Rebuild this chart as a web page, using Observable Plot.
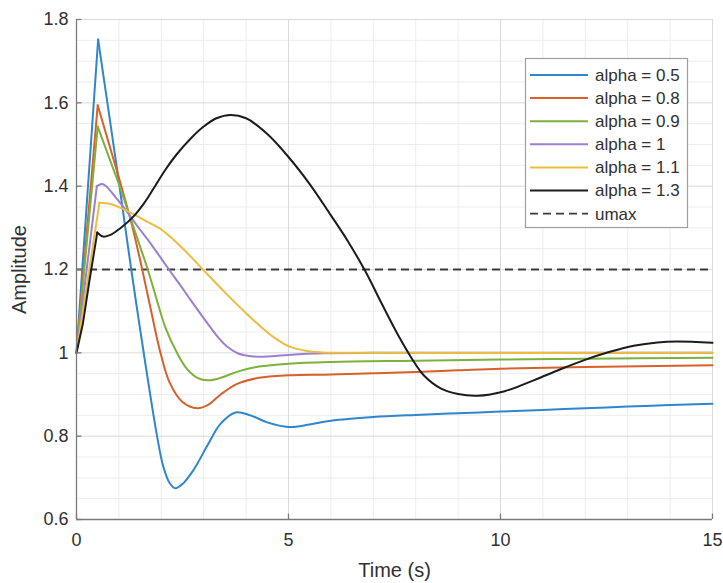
<!DOCTYPE html>
<html><head><meta charset="utf-8">
<script src="https://cdn.jsdelivr.net/npm/d3@7"></script>
<script src="https://cdn.jsdelivr.net/npm/@observablehq/plot@0.6"></script>
<style>
body{margin:0;background:#fff}
#chart{position:relative;width:723px;height:583px}
</style>
</head><body><div id="chart"></div>
<script>
// ---- data ----
const seriesNames = ["alpha = 0.5","alpha = 0.8","alpha = 0.9","alpha = 1","alpha = 1.1","alpha = 1.3"];
const seriesColors = ["#2f86cc","#d9602a","#7fb03c","#9c80d0","#ecbd3e","#1c1c1c"];
// time of the sharp first peak of each response (end of the initial straight rise)
const cornerTimes = [0.51, 0.5, 0.5, 0.48, 0.54, 0.49];

const alpha05 = [[0,1.0],[0.51,1.752],[0.8,1.55],[1.0,1.41],[1.27,1.215],[1.6,0.99],[1.9,0.8],[2.05,0.726],[2.2,0.687],[2.33,0.675],[2.5,0.685],[2.7,0.71],[2.85,0.734],[3.1,0.78],[3.4,0.83],[3.75,0.857],[4.1,0.85],[4.5,0.833],[5.0,0.822],[5.5,0.828],[6,0.837],[7,0.846],[8,0.851],[9,0.855],[10,0.859],[11,0.863],[12,0.867],[13,0.871],[14,0.875],[15,0.878]];
const alpha08 = [[0,1.0],[0.5,1.594],[0.8,1.49],[1.0,1.42],[1.3,1.31],[1.55,1.2],[1.75,1.105],[1.98,1.0],[2.2,0.928],[2.5,0.882],[2.85,0.867],[3.1,0.875],[3.4,0.9],[3.8,0.926],[4.3,0.94],[5,0.946],[6,0.948],[7,0.951],[8,0.954],[9,0.958],[10,0.962],[12,0.966],[15,0.970]];
const alpha09 = [[0,1.0],[0.5,1.543],[0.8,1.46],[1.0,1.405],[1.3,1.315],[1.68,1.2],[1.9,1.125],[2.1,1.06],[2.37,1.0],[2.6,0.962],[2.85,0.94],[3.1,0.934],[3.4,0.94],[3.8,0.955],[4.3,0.967],[5,0.974],[6,0.978],[8,0.981],[10,0.984],[12,0.986],[15,0.988]];
const alpha10 = [[0,1.0],[0.48,1.40],[0.6,1.405],[0.7,1.40],[0.95,1.37],[1.18,1.34],[1.43,1.305],[1.8,1.255],[2.18,1.2],[2.45,1.162],[2.69,1.127],[2.9,1.097],[3.16,1.061],[3.35,1.036],[3.55,1.015],[3.8,0.999],[4.18,0.991],[4.6,0.992],[5,0.995],[5.8,0.999],[7,1.0],[15,1.0]];
const alpha11 = [[0,1.0],[0.54,1.36],[0.8,1.357],[1.1,1.345],[1.4,1.33],[1.7,1.313],[2.0,1.296],[2.25,1.275],[2.5,1.251],[2.75,1.225],[3.0,1.198],[3.5,1.145],[4.0,1.095],[4.4,1.058],[4.7,1.034],[5.0,1.016],[5.4,1.005],[5.8,1.001],[6.5,1.0],[15,1.0]];
const alpha13 = [[0,1.0],[0.15,1.07],[0.3,1.17],[0.49,1.289],[0.63,1.279],[0.8,1.283],[1.02,1.298],[1.34,1.327],[1.6,1.36],[1.81,1.393],[2.1,1.44],[2.36,1.476],[2.7,1.515],[3.0,1.543],[3.3,1.563],[3.63,1.571],[4.0,1.563],[4.5,1.525],[5.0,1.47],[5.5,1.405],[6.0,1.33],[6.4,1.268],[6.8,1.198],[7.2,1.118],[7.6,1.04],[8.0,0.972],[8.2,0.945],[8.6,0.914],[9.0,0.901],[9.45,0.897],[10.1,0.908],[10.78,0.934],[11.4,0.96],[11.96,0.982],[12.6,1.003],[13.14,1.017],[13.7,1.025],[14.17,1.027],[15,1.024]];

const umax = 1.2;
const umaxLabel = "umax";
const xTicks = [0,5,10,15];
const xMinor = [1,2,3,4,6,7,8,9,11,12,13,14];
const yTicks = [0.6,0.8,1,1.2,1.4,1.6,1.8];
const yMinor = [0.65,0.7,0.75,0.85,0.9,0.95,1.05,1.1,1.15,1.25,1.3,1.35,1.45,1.5,1.55,1.65,1.7,1.75];
const xLabel = "Time (s)";
const yLabel = "Amplitude";

// ---- build tables: straight initial rise + smooth remainder ----
const seriesData = [alpha05, alpha08, alpha09, alpha10, alpha11, alpha13];
const riseRows = [], restRows = [];
seriesData.forEach((s, i) => {
  const c = cornerTimes[i];
  s.forEach(([t, v]) => {
    const r = {t, v, name: seriesNames[i]};
    if (t <= c) riseRows.push(r);
    if (t >= c) restRows.push(r);
  });
});

const textColor = "#303030";
const axisColor = "#7a7a7a";
const fmt = d => String(+d.toFixed(1));

const chart = Plot.plot({
  width: 723, height: 583,
  marginLeft: 76, marginRight: 11, marginTop: 19, marginBottom: 64,
  style: {fontFamily: "'Liberation Sans', Arial, sans-serif", color: textColor, background: "#fff"},
  x: {domain: [0, 15]},
  y: {domain: [0.6, 1.8]},
  color: {domain: seriesNames, range: seriesColors},
  marks: [
    Plot.ruleX(xMinor, {stroke: "#ededed", strokeWidth: 1}),
    Plot.ruleY(yMinor, {stroke: "#ededed", strokeWidth: 1}),
    Plot.ruleX(xTicks, {stroke: "#dadada", strokeWidth: 1}),
    Plot.ruleY(yTicks, {stroke: "#dadada", strokeWidth: 1}),
    Plot.ruleY([umax], {stroke: "#3a3a3a", strokeWidth: 1.8, strokeDasharray: "8,5"}),
    Plot.line(riseRows, {x: "t", y: "v", z: "name", stroke: "name", strokeWidth: 2, curve: "linear"}),
    Plot.line(restRows, {x: "t", y: "v", z: "name", stroke: "name", strokeWidth: 2, curve: "catmull-rom"}),
    Plot.ruleX([0], {stroke: axisColor, strokeWidth: 1.3}),
    Plot.ruleY([0.6], {stroke: axisColor, strokeWidth: 1.3}),
    Plot.ruleX(xTicks, {y1: 0.6, y2: 0.613, stroke: axisColor, strokeWidth: 1.3}),
    Plot.ruleY(yTicks, {x1: 0, x2: 0.13, stroke: axisColor, strokeWidth: 1.3}),
    Plot.axisX({ticks: xTicks, tickSize: 0, tickPadding: 14, label: null, fontSize: 18, fill: textColor}),
    Plot.axisY({ticks: yTicks, tickSize: 0, tickPadding: 8, tickFormat: fmt, label: null, fontSize: 18, fill: textColor}),
    Plot.text([xLabel], {frameAnchor: "bottom", textAnchor: "middle", lineAnchor: "middle", dy: 51, fontSize: 20, fill: textColor}),
    Plot.text([yLabel], {frameAnchor: "left", textAnchor: "middle", lineAnchor: "middle", dx: -57, rotate: -90, fontSize: 20, fill: textColor})
  ]
});
document.getElementById("chart").appendChild(chart);

// ---- legend ----
const svg = d3.select(chart);
const lg = svg.append("g").attr("font-family", "'Liberation Sans', Arial, sans-serif").attr("font-size", 17).attr("text-anchor", "start");
lg.append("rect").attr("x", 525.5).attr("y", 58.5).attr("width", 162).attr("height", 169)
  .attr("fill", "#fff").attr("stroke", "#a0a0a0").attr("stroke-width", 1.2);
const legendItems = seriesNames.map((n, i) => ({label: n, color: seriesColors[i], dash: null}))
  .concat([{label: umaxLabel, color: "#3a3a3a", dash: "8,5"}]);
legendItems.forEach((it, i) => {
  const y = 75 + i * 23.1;
  lg.append("line").attr("x1", 530).attr("x2", 588).attr("y1", y).attr("y2", y)
    .attr("stroke", it.color).attr("stroke-width", it.dash ? 1.8 : 2).attr("stroke-dasharray", it.dash);
  lg.append("text").attr("x", 595).attr("y", y).attr("dy", "0.35em").attr("text-anchor", "start").attr("fill", textColor).text(it.label);
});
</script>
</body></html>
